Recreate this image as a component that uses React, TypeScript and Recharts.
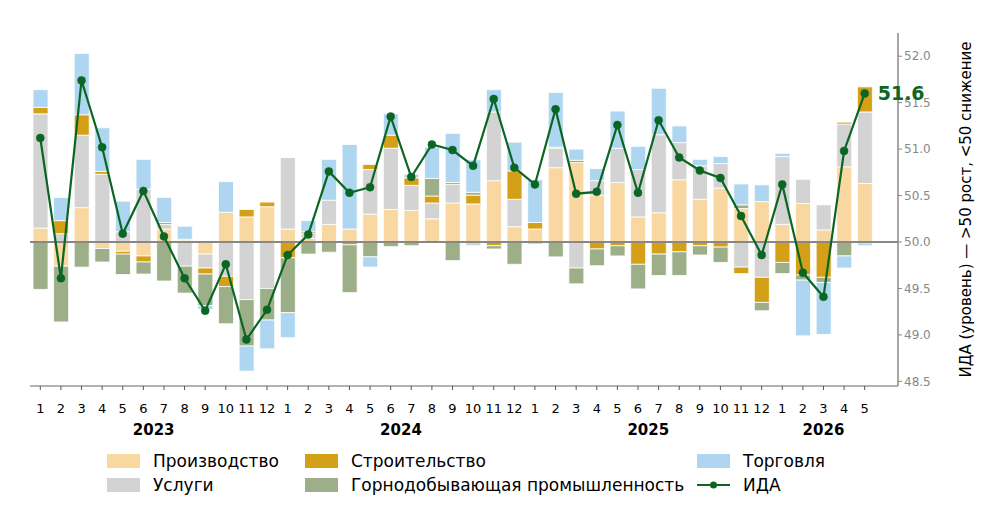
import { ComposedChart, Bar, Line, XAxis, YAxis, ReferenceLine } from 'recharts';

// months 2023-01 .. 2026-05
const months = [
  '1', '2', '3', '4', '5', '6', '7', '8', '9', '10', '11', '12',
  '1', '2', '3', '4', '5', '6', '7', '8', '9', '10', '11', '12',
  '1', '2', '3', '4', '5', '6', '7', '8', '9', '10', '11', '12',
  '1', '2', '3', '4', '5',
];

const yearGroups = [
  { year: '2023', from: 0, to: 11 },
  { year: '2024', from: 12, to: 23 },
  { year: '2025', from: 24, to: 35 },
  { year: '2026', from: 36, to: 40 },
];

// contributions, deviation from 50
const manufacturing = [
  0.15, -0.26, 0.37, -0.07, -0.1, -0.15, 0.14, 0.02, -0.13, 0.32, 0.27, 0.38,
  0.14, 0.04, 0.19, 0.14, 0.3, 0.35, 0.34, 0.25, 0.42, 0.41, 0.66, 0.165,
  0.14, 0.8, 0.855, 0.5, 0.64, 0.27, 0.315, 0.67, 0.46, 0.58, 0.36, 0.435,
  0.19, 0.415, 0.13, 0.81, 0.63,
];
const services = [
  1.23, 0.09, 0.78, 0.73, 0.11, 0.57, 0.05, -0.26, -0.15, -0.37, -0.62, -0.5,
  0.77, 0.05, 0.26, 0, 0.48, 0.66, 0.27, 0.17, 0.2, -0.04, 0.74, 0.295,
  -0.025, 0.21, -0.28, 0.16, 0.37, 0.51, 0.84, 0.4, 0.36, 0.265, -0.27, -0.38,
  0.73, 0.26, 0.27, 0.46, 0.77,
];
const construction = [
  0.07, 0.14, 0.22, 0.03, -0.03, -0.065, 0.02, 0.01, -0.065, -0.11, 0.08, 0.05,
  -0.17, 0.02, 0, -0.03, 0.055, 0.14, 0.08, 0.075, 0.02, 0.095, -0.04, 0.305,
  0.07, 0.01, 0.025, -0.075, -0.04, -0.24, -0.13, -0.105, -0.04, -0.055, -0.07, -0.27,
  -0.22, -0.355, -0.38, 0.02, 0.27,
];
const mining = [
  -0.51, -0.6, -0.27, -0.145, -0.22, -0.13, -0.42, -0.29, -0.34, -0.4, -0.5, -0.34,
  -0.59, -0.13, -0.11, -0.515, -0.16, -0.05, -0.04, 0.19, -0.2, 0.03, -0.035, -0.24,
  0, -0.16, -0.17, -0.18, -0.11, -0.265, -0.23, -0.255, -0.1, -0.165, 0.04, -0.09,
  -0.12, -0.055, -0.055, -0.15, -0.01,
];
const trade = [
  0.19, 0.25, 0.66, 0.47, 0.33, 0.32, 0.27, 0.14, -0.04, 0.33, -0.27, -0.31,
  -0.27, 0.12, 0.44, 0.91, -0.11, 0.23, 0.04, 0.335, 0.53, 0.35, 0.24, 0.31,
  0.46, 0.59, 0.12, 0.13, 0.4, 0.25, 0.5, 0.18, 0.07, 0.075, 0.225, 0.18,
  0.035, -0.6, -0.56, -0.13, -0.03,
];
// composite index level
const ida = [
  51.12, 49.61, 51.74, 51.02, 50.09, 50.55, 50.06, 49.61, 49.26, 49.76, 48.95, 49.27,
  49.86, 50.08, 50.76, 50.53, 50.59, 51.35, 50.7, 51.05, 50.99, 50.82, 51.54, 50.8,
  50.62, 51.43, 50.52, 50.54, 51.26, 50.53, 51.31, 50.91, 50.77, 50.69, 50.28, 49.86,
  50.62, 49.67, 49.41, 50.98, 51.6,
];

const series = [
  { key: 'manufacturing', name: 'Производство', color: '#f9d7a0' },
  { key: 'services', name: 'Услуги', color: '#d3d3d3' },
  { key: 'construction', name: 'Строительство', color: '#d4a017' },
  { key: 'mining', name: 'Горнодобывающая промышленность', color: '#9caf88' },
  { key: 'trade', name: 'Торговля', color: '#aed6f1' },
];
const IDA_COLOR = '#0b6623';

const data = months.map((m, i) => ({
  key: String(i),
  month: m,
  manufacturing: manufacturing[i],
  services: services[i],
  construction: construction[i],
  mining: mining[i],
  trade: trade[i],
  ida: ida[i],
}));

const W = 986;
const H = 521;
const Y_AXIS_W = 88;
const X_AXIS_H = 30;
const M = { top: 33, left: 30, right: 0, bottom: 105 };
const PAD_RIGHT = 23;
const BAND = (W - M.left - M.right - Y_AXIS_W - PAD_RIGHT) / months.length;
const FONT = '"DejaVu Sans", sans-serif';

const MonthTick = (props: any) => {
  const { x, y, payload } = props;
  const i = Number(payload.value);
  const group = yearGroups.find((g) => g.from === i);
  return (
    <g>
      <text x={x} y={y + 21} textAnchor="middle" fontSize={13} fill="#000" fontFamily={FONT}>
        {months[i]}
      </text>
      {group && (
        <text
          x={x + ((group.to - group.from) * BAND) / 2}
          y={y + 43}
          textAnchor="middle"
          fontSize={15}
          fontWeight="bold"
          fill="#000"
          fontFamily={FONT}
        >
          {group.year}
        </text>
      )}
    </g>
  );
};

const LastLabel = (props: any) => {
  const { x, y, index, value } = props;
  if (index !== ida.length - 1) return null;
  return (
    <text x={x + 13} y={y + 7} fontSize={19} fontWeight="bold" fill={IDA_COLOR} fontFamily={FONT}>
      {Number(value).toFixed(1)}
    </text>
  );
};

const legendRows = [
  [series[0], series[2], series[4]],
  [series[1], series[3], null],
];
const legendCols = [107, 305, 697];

export default function App() {
  return (
    <div style={{ position: 'absolute', left: 0, top: 0, width: W, height: H, background: '#fff', fontFamily: FONT }}>
      <ComposedChart
        width={W}
        height={H}
        data={data}
        margin={M}
        stackOffset="sign"
        barCategoryGap={3}
      >
        <XAxis
          dataKey="key"
          interval={0}
          height={X_AXIS_H}
          tick={<MonthTick />}
          tickLine={{ stroke: '#555' }}
          tickSize={4}
          axisLine={{ stroke: '#999', strokeWidth: 1.5 }}
          padding={{ left: 0, right: PAD_RIGHT }}
        />
        <YAxis yAxisId="delta" hide domain={[-1.55, 2.25]} allowDataOverflow />
        <YAxis
          yAxisId="level"
          orientation="right"
          domain={[48.45, 52.25]}
          ticks={[48.5, 49, 49.5, 50, 50.5, 51, 51.5, 52]}
          tickFormatter={(v: number) => v.toFixed(1)}
          tick={{ fill: '#888', fontSize: 12, fontFamily: FONT }}
          tickLine={{ stroke: '#888' }}
          tickSize={4}
          axisLine={{ stroke: '#888', strokeWidth: 1.5 }}
          width={Y_AXIS_W}
          allowDataOverflow
          label={{
            value: 'ИДА (уровень) — >50 рост, <50 снижение',
            angle: -90,
            position: 'center',
            dx: 24,
            fontSize: 15,
            fill: '#000',
            fontFamily: FONT,
          }}
        />
        {series.map((s) => (
          <Bar
            key={s.key}
            yAxisId="delta"
            dataKey={s.key}
            name={s.name}
            stackId="a"
            fill={s.color}
            stroke="#fff"
            strokeWidth={0.8}
            isAnimationActive={false}
          />
        ))}
        <ReferenceLine yAxisId="delta" y={0} stroke="#888" strokeWidth={2} />
        <Line
          yAxisId="level"
          dataKey="ida"
          name="ИДА"
          stroke={IDA_COLOR}
          strokeWidth={2.2}
          dot={{ r: 4, fill: IDA_COLOR, stroke: IDA_COLOR, strokeWidth: 0.5 }}
          isAnimationActive={false}
          label={<LastLabel />}
        />
      </ComposedChart>
      {legendRows.map((row, r) =>
        row.map((s, c) => {
          const top = 452 + r * 24;
          const left = legendCols[c];
          const item = s ?? { name: 'ИДА', color: IDA_COLOR };
          return (
            <div
              key={`${r}-${c}`}
              style={{ position: 'absolute', left, top, height: 18, display: 'flex', alignItems: 'center', whiteSpace: 'nowrap' }}
            >
              {s ? (
                <div style={{ width: 33, height: 14, background: item.color }} />
              ) : (
                <svg width={33} height={14}>
                  <line x1={0} y1={7} x2={33} y2={7} stroke={IDA_COLOR} strokeWidth={2.2} />
                  <circle cx={16.5} cy={7} r={3.5} fill={IDA_COLOR} />
                </svg>
              )}
              <span style={{ marginLeft: 13, fontSize: 17, color: '#000' }}>{item.name}</span>
            </div>
          );
        })
      )}
    </div>
  );
}
